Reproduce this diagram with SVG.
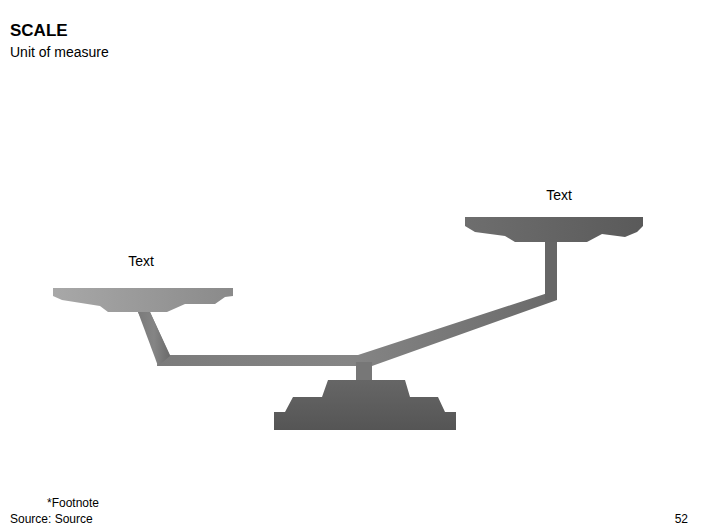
<svg xmlns="http://www.w3.org/2000/svg" width="706" height="529" viewBox="0 0 706 529">
<defs>
<linearGradient id="gL" x1="0" y1="0" x2="1" y2="0"><stop offset="0" stop-color="#a8a8a8"/><stop offset="1" stop-color="#8a8a8a"/></linearGradient>
<linearGradient id="gB" x1="0" y1="0" x2="1" y2="0"><stop offset="0" stop-color="#7a7a7a"/><stop offset="0.5" stop-color="#858585"/><stop offset="1" stop-color="#6a6a6a"/></linearGradient>
<linearGradient id="gR" x1="0" y1="0" x2="1" y2="0"><stop offset="0" stop-color="#6e6e6e"/><stop offset="1" stop-color="#5a5a5a"/></linearGradient>
<linearGradient id="gS" x1="0" y1="0" x2="0" y2="1"><stop offset="0" stop-color="#666"/><stop offset="1" stop-color="#555"/></linearGradient>
<style>text{font-family:"Liberation Sans",Arial,sans-serif;fill:#000}</style>
</defs>
<text x="10" y="36" font-size="17" font-weight="bold">SCALE</text>
<text x="10" y="57" font-size="14">Unit of measure</text>
<g id="beam">
<polygon fill="url(#gB)" points="138,312 150,312 170,355 358,355 557,290 557,300 372,366 157,366 158,355"/>
<polygon fill="url(#gB)" points="138,312 150,312 170,356 158,366"/>
<rect x="356" y="362" width="16" height="20" fill="#777"/>
<rect x="545" y="228" width="12" height="72" fill="#666"/>
</g>
<g id="left-pan">
<polygon fill="url(#gL)" points="53,288 233,288 233,296 225,297 215,304 185,304 167,312 108,312 100,306 62,300 53,296"/>
<text x="141" y="266" font-size="14" text-anchor="middle">Text</text>
</g>
<g id="right-pan">
<polygon fill="url(#gR)" points="465,217 643,217 643,226 637,232 625,237 602,234 587,242 515,242 505,236 475,232 465,226"/>
<text x="559" y="200" font-size="14" text-anchor="middle">Text</text>
</g>
<g id="base">
<polygon fill="url(#gS)" points="328,380 405,380 410,397 438,397 445,412 456,412 456,430 274,430 274,412 285,412 293,397 322,397"/>
</g>
<text x="47" y="507" font-size="12">*Footnote</text>
<text x="10" y="523" font-size="12">Source: Source</text>
<text x="688" y="523" font-size="12" text-anchor="end">52</text>
</svg>
